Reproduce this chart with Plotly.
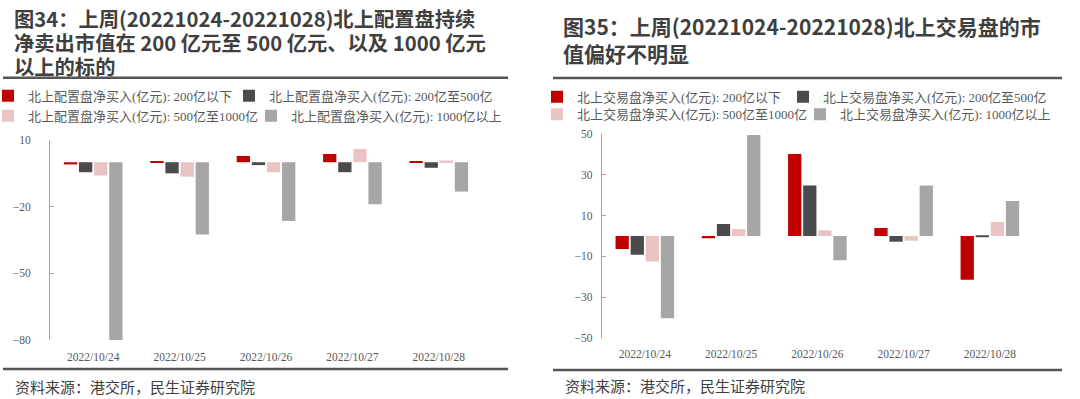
import plotly.graph_objects as go

# ---------------- data ----------------
dates = ["2022/10/24", "2022/10/25", "2022/10/26", "2022/10/27", "2022/10/28"]

left_names = [
    "北上配置盘净买入(亿元): 200亿以下",
    "北上配置盘净买入(亿元): 200亿至500亿",
    "北上配置盘净买入(亿元): 500亿至1000亿",
    "北上配置盘净买入(亿元): 1000亿以上",
]
right_names = [
    "北上交易盘净买入(亿元): 200亿以下",
    "北上交易盘净买入(亿元): 200亿至500亿",
    "北上交易盘净买入(亿元): 500亿至1000亿",
    "北上交易盘净买入(亿元): 1000亿以上",
]

alloc_lt200 = [-1.0, 0.4, 2.8, 3.7, 0.5]
alloc_200_500 = [-4.5, -5.0, -1.3, -4.5, -2.5]
alloc_500_1000 = [-6.0, -6.5, -4.5, 6.0, 0.8]
alloc_gt1000 = [-80.0, -32.5, -26.4, -18.9, -13.2]

trade_lt200 = [-6.4, -1.1, 40.3, 3.9, -21.5]
trade_200_500 = [-9.2, 5.9, 24.8, -2.8, -0.5]
trade_500_1000 = [-12.5, 3.4, 2.8, -2.3, 6.9]
trade_gt1000 = [-40.4, 49.7, -11.9, 24.8, 17.2]

left_yticks = [10, -20, -50, -80]
right_yticks = [50, 30, 10, -10, -30, -50]

left_title = [
    "图34：上周(20221024-20221028)北上配置盘持续",
    "净卖出市值在 200 亿元至 500 亿元、以及 1000 亿元",
    "以上的标的",
]
right_title = [
    "图35：上周(20221024-20221028)北上交易盘的市",
    "值偏好不明显",
]
source_text = "资料来源：港交所，民生证券研究院"

colors = ["#C00000", "#4B4B4D", "#EAC3C3", "#A6A6A6"]

# ---------------- layout constants ----------------
W, H = 1080, 399
def px(x):
    return x / W
def py(y):
    return 1 - y / H

L_dom_x = [px(50), px(482)]
L_dom_y = [py(340), py(140)]
R_dom_x = [px(601.7), px(1033)]
R_dom_y = [py(337.7), py(134.3)]
L_range = [min(left_yticks), max(left_yticks)]
R_range = [min(right_yticks), max(right_yticks)]

serif = "Liberation Serif, 'Noto Sans CJK SC', serif"
sans = "'Noto Sans CJK SC', 'Noto Sans', sans-serif"
axis_col = "#A6A6A6"
tick_col = "#595959"

fig = go.Figure()

left_series = [alloc_lt200, alloc_200_500, alloc_500_1000, alloc_gt1000]
right_series = [trade_lt200, trade_200_500, trade_500_1000, trade_gt1000]

# legend rows: (legend id, legendwidth of entry)
left_leg = [("legend", 196), ("legend", 235), ("legend2", 218), ("legend2", 225)]
right_leg = [("legend3", 201), ("legend3", 235), ("legend4", 218), ("legend4", 225)]

for i, (name, vals) in enumerate(zip(left_names, left_series)):
    fig.add_trace(go.Bar(x=dates, y=vals, name=name, marker=dict(color=colors[i], line=dict(width=0)),
                         xaxis="x", yaxis="y", legend=left_leg[i][0], legendwidth=left_leg[i][1]))
for i, (name, vals) in enumerate(zip(right_names, right_series)):
    fig.add_trace(go.Bar(x=dates, y=vals, name=name, marker=dict(color=colors[i], line=dict(width=0)),
                         xaxis="x2", yaxis="y2", legend=right_leg[i][0], legendwidth=right_leg[i][1]))

def zero_pos(rng, dom):
    return dom[0] + (0 - rng[0]) / (rng[1] - rng[0]) * (dom[1] - dom[0])

n = len(dates)
bounds = [k - 0.5 for k in range(n + 1)]

xcommon = dict(type="category", showline=False, ticks="", showgrid=False, zeroline=False,
               tickfont=dict(family=serif, size=11.5, color=tick_col), ticklabelstandoff=8,
               range=[-0.5, n - 0.5])
ycommon = dict(showline=True, linecolor=axis_col, linewidth=1, ticks="inside", ticklen=4,
               tickcolor=axis_col, showgrid=False, zeroline=False,
               tickfont=dict(family=serif, size=11.5, color=tick_col))
zcommon = dict(type="linear", range=[-0.5, n - 0.5], showline=True, linecolor=axis_col, linewidth=1,
               ticks="inside", ticklen=4, tickcolor=axis_col, tickvals=bounds, showticklabels=False,
               showgrid=False, zeroline=False, anchor="free")

fig.update_layout(
    width=W, height=H,
    margin=dict(l=0, r=0, t=0, b=0, autoexpand=False),
    paper_bgcolor="white", plot_bgcolor="white",
    barmode="group", bargap=0.3, bargroupgap=0.12,
    xaxis=dict(domain=L_dom_x, anchor="y", **xcommon),
    yaxis=dict(domain=L_dom_y, anchor="x", range=L_range, tickvals=left_yticks,
               ticklabelstandoff=16, **ycommon),
    xaxis2=dict(domain=R_dom_x, anchor="y2", **xcommon),
    yaxis2=dict(domain=R_dom_y, anchor="x2", range=R_range, tickvals=right_yticks,
                ticklabelstandoff=6, **ycommon),
    xaxis3=dict(domain=L_dom_x, overlaying="x", position=zero_pos(L_range, L_dom_y), **zcommon),
    xaxis4=dict(domain=R_dom_x, overlaying="x2", position=zero_pos(R_range, R_dom_y), **zcommon),
    showlegend=True,
)

leg_font = dict(family=serif, size=13, color=tick_col)
def leg(x_text, y_center):
    return dict(orientation="h", x=px(x_text - 40), xanchor="left", y=py(y_center), yanchor="middle",
                font=leg_font, bgcolor="rgba(0,0,0,0)",
                traceorder="normal", itemclick=False, itemdoubleclick=False)

fig.update_layout(
    legend=leg(28, 95.7),
    legend2=leg(28, 115.7),
    legend3=leg(577, 96.7),
    legend4=leg(577, 114.3),
)

ann = []
for txt, yc in zip(left_title, [18.5, 42.3, 65.8]):
    ann.append(dict(text="<b>" + txt + "</b>", x=px(12), y=py(yc), xref="paper", yref="paper",
                    xanchor="left", yanchor="middle", showarrow=False,
                    font=dict(family=sans, size=20.3, color="#3F3F3F")))
ann += [
    dict(text="<br>".join("<b>" + t + "</b>" for t in right_title), x=px(561), y=py(39.7),
         xref="paper", yref="paper", xanchor="left", yanchor="middle", align="left", showarrow=False,
         font=dict(family=sans, size=21, color="#3F3F3F")),
    dict(text=source_text, x=px(13), y=py(386), xref="paper", yref="paper",
         xanchor="left", yanchor="middle", showarrow=False,
         font=dict(family=sans, size=15, color="#404040")),
    dict(text=source_text, x=px(563), y=py(385), xref="paper", yref="paper",
         xanchor="left", yanchor="middle", showarrow=False,
         font=dict(family=sans, size=15, color="#404040")),
]
fig.update_layout(annotations=ann)

rule = dict(color="#555555", width=2.5)
shapes = [
    dict(type="line", xref="paper", yref="paper", x0=px(3), x1=px(508), y0=py(77.7), y1=py(77.7), line=rule),
    dict(type="line", xref="paper", yref="paper", x0=px(553), x1=px(1062), y0=py(78), y1=py(78), line=rule),
    dict(type="line", xref="paper", yref="paper", x0=px(3), x1=px(508), y0=py(369), y1=py(369), line=rule),
    dict(type="line", xref="paper", yref="paper", x0=px(553), x1=px(1062), y0=py(370), y1=py(370), line=rule),
]
fig.update_layout(shapes=shapes)

fig.write_html("out.html", config={"displayModeBar": False},
               post_script="document.body.style.margin='0px';")
